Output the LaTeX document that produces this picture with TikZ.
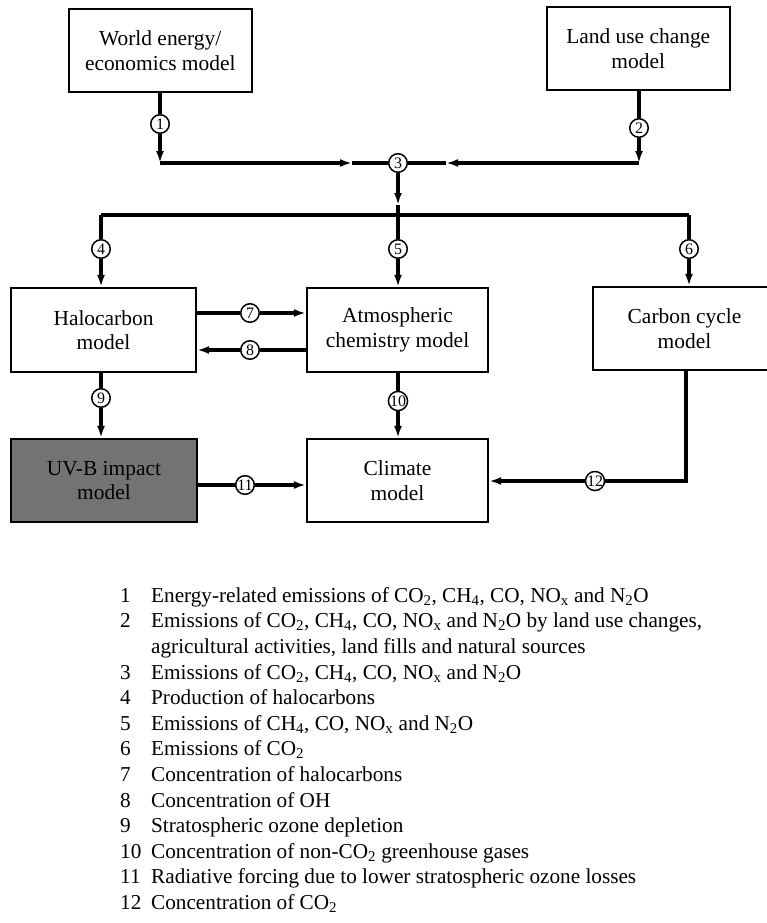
\documentclass[tikz,border=0pt]{standalone}
\usepackage{fontspec}
\setmainfont{Liberation Serif}
\usetikzlibrary{arrows.meta,calc}
\tikzset{
  box/.style={draw=black, line width=2.2bp, minimum width=183bp, minimum height=83bp,
    align=center, inner sep=2bp, font=\fontsize{21.5}{24.5}\selectfont},
  num/.style={circle, draw=black, fill=white, line width=1.5bp, minimum size=18.5bp,
    inner sep=0pt, font=\fontsize{16}{16}\selectfont},
  conn/.style={line width=3.2bp, line cap=butt},
  arr/.style={conn, -{Latex[length=12bp,width=8bp]}},
  legnum/.style={anchor=west, inner sep=0pt, text height=0.7em, text depth=0.25em,
    font=\fontsize{21.3}{24}\selectfont},
  legtxt/.style={legnum},
}
\newcommand{\sbs}[1]{\textsubscript{#1}}
\begin{document}
\begin{tikzpicture}[x=1bp,y=-1bp]
\useasboundingbox (0,0) rectangle (767,923);
% boxes
\node[box] (world) at (160.25,50.5) {World energy/\\economics model};
\node[box] (land) at (638.25,48.5) {Land use change\\model};
\node[box, minimum width=185bp, minimum height=84bp] (halo) at (103.5,330) {Halocarbon\\model};
\node[box, minimum width=181bp, minimum height=84bp] (atmo) at (397.5,330) {Atmospheric\\chemistry model};
\node[box, minimum height=83bp] (carbon) at (684.5,328.5) {Carbon cycle\\model};
\node[box, minimum width=186bp, fill=black!55] (uv) at (104,480.5) {UV-B impact\\model};
\node[box, minimum width=181bp] (climate) at (397.5,480.5) {Climate\\model};
% numbered circles
\node[num] (c1) at (160,124) {1};
\node[num] (c2) at (639,128) {2};
\node[num] (c3) at (398,163) {3};
\node[num] (c4) at (101,249) {4};
\node[num] (c5) at (398,249) {5};
\node[num] (c6) at (689,249) {6};
\node[num] (c7) at (250,313) {7};
\node[num] (c8) at (250,350) {8};
\node[num] (c9) at (101,398) {9};
\node[num] (c10) at (398,401) {10};
\node[num] (c11) at (245,485) {11};
\node[num] (c12) at (595,481) {12};
% junction coordinates
\coordinate (j1) at (160,163);
\coordinate (j2) at (639,163);
\coordinate (m1) at (352,163);
\coordinate (m2) at (446,163);
\coordinate (m3) at (398,205);
\coordinate (s) at (398,215);
\coordinate (sL) at (101,215);
\coordinate (sR) at (689,215);
\coordinate (k12) at (686,481);
% connectors
\draw[conn] (world.south -| c1) -- (c1);
\draw[arr] (c1) -- (j1);
\draw[arr] (j1) -- (m1);
\draw[conn] (m1) -- (c3);
\draw[conn] (land.south -| c2) -- (c2);
\draw[arr] (c2) -- (j2);
\draw[arr] (j2) -- (m2);
\draw[conn] (m2) -- (c3);
\draw[arr] (c3) -- (m3);
\draw[conn] (m3) -- (s);
\draw[conn] (sL) -- (sR);
\draw[conn] (sL) -- (c4);
\draw[arr] (c4) -- (halo.north -| c4);
\draw[conn] (s) -- (c5);
\draw[arr] (c5) -- (atmo.north -| c5);
\draw[conn] (sR) -- (c6);
\draw[arr] (c6) -- (carbon.north -| c6);
\draw[conn] (halo.east |- c7) -- (c7);
\draw[arr] (c7) -- (atmo.west |- c7);
\draw[conn] (atmo.west |- c8) -- (c8);
\draw[arr] (c8) -- (halo.east |- c8);
\draw[conn] (halo.south -| c9) -- (c9);
\draw[arr] (c9) -- (uv.north -| c9);
\draw[conn] (atmo.south -| c10) -- (c10);
\draw[arr] (c10) -- (climate.north -| c10);
\draw[conn] (uv.east |- c11) -- (c11);
\draw[arr] (c11) -- (climate.west |- c11);
\draw[conn] (carbon.south -| k12) -- (k12) -- (c12);
\draw[arr] (c12) -- (climate.east |- c12);
% legend
\foreach \n/\r in {1/0,2/1,3/3,4/4,5/5,6/6,7/7,8/8,9/9,10/10,11/11,12/12}{
  \node[legnum] (n\n) at (120,{600+25.6*\r}) {\n};
}
\node[legtxt] (t1) at (151,600) {Energy-related emissions of CO\sbs{2}, CH\sbs{4}, CO, NO\sbs{x} and N\sbs{2}O};
\node[legtxt] (t2) at (151,625.6) {Emissions of CO\sbs{2}, CH\sbs{4}, CO, NO\sbs{x} and N\sbs{2}O by land use changes,};
\node[legtxt] (t2b) at (151,651.2) {agricultural activities, land fills and natural sources};
\node[legtxt] (t3) at (151,676.8) {Emissions of CO\sbs{2}, CH\sbs{4}, CO, NO\sbs{x} and N\sbs{2}O};
\node[legtxt] (t4) at (151,702.4) {Production of halocarbons};
\node[legtxt] (t5) at (151,728) {Emissions of CH\sbs{4}, CO, NO\sbs{x} and N\sbs{2}O};
\node[legtxt] (t6) at (151,753.6) {Emissions of CO\sbs{2}};
\node[legtxt] (t7) at (151,779.2) {Concentration of halocarbons};
\node[legtxt] (t8) at (151,804.8) {Concentration of OH};
\node[legtxt] (t9) at (151,830.4) {Stratospheric ozone depletion};
\node[legtxt] (t10) at (151,856) {Concentration of non-CO\sbs{2} greenhouse gases};
\node[legtxt] (t11) at (151,881.6) {Radiative forcing due to lower stratospheric ozone losses};
\node[legtxt] (t12) at (151,907.2) {Concentration of CO\sbs{2}};
\end{tikzpicture}
\end{document}
